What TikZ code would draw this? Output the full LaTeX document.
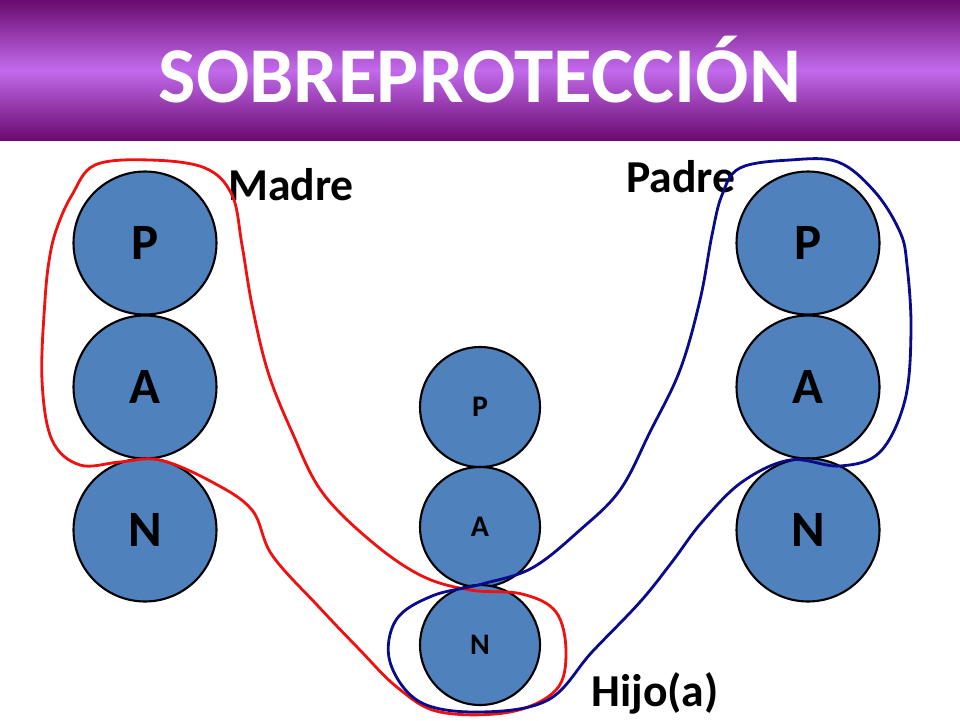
\documentclass[tikz,border=0pt]{standalone}
\usepackage{fontspec}
\setmainfont{Carlito}
\usetikzlibrary{positioning}
\definecolor{ballblue}{HTML}{4F81BD}
\definecolor{loopred}{HTML}{F01010}
\definecolor{loopblue}{HTML}{0A0A8C}
\definecolor{bandedge}{HTML}{6A0A6E}
\definecolor{bandmid}{HTML}{C26AEC}
\tikzset{
	big/.style={circle,draw=black,line width=1.2pt,fill=ballblue,minimum size=2.86cm,inner sep=0pt,font=\fontsize{29}{32}\selectfont\bfseries},
	small/.style={circle,draw=black,line width=1.2pt,fill=ballblue,minimum size=2.4cm,inner sep=0pt,font=\fontsize{17}{19}\selectfont\bfseries},
	lbl/.style={font=\fontsize{26}{30}\selectfont\bfseries},
}
\begin{document}
\begin{tikzpicture}[x=0.02cm,y=-0.02cm]
	\useasboundingbox (0,0) rectangle (960,720);
	\shade[top color=bandedge,bottom color=bandedge,middle color=bandmid] (0,0) rectangle (960,140);
	\node[text=white,font=\fontsize{45}{50}\selectfont\bfseries] (title) at (480,70) {SOBREPROTECCIÓN};
	% madre
	\node[big] (mP) at (145,243) {P};
	\node[big] (mA) at (145,387) {A};
	\node[big] (mN) at (145,530) {N};
	% padre
	\node[big] (pP) at (808,243) {P};
	\node[big] (pA) at (808,387) {A};
	\node[big] (pN) at (808,530) {N};
	% hijo
	\node[small] (hP) at (480,407) {P};
	\node[small] (hA) at (480,527) {A};
	\node[small] (hN) at (480,645) {N};
	\node[lbl] (madre) at (291,185) {Madre};
	\node[lbl] (padre) at (681,177) {Padre};
	\node[lbl] (hijo) at (655,693) {Hijo(a)};
	\draw[loopred,line width=1.6pt] plot[smooth cycle,tension=0.6] coordinates {
		(95,165) (150,160) (205,168) (232,195) (242,245) (252,305) (268,372) (292,432)
		(322,492) (372,542) (422,576) (470,590) (522,594) (556,612) (566,652) (556,690)
		(510,712) (440,712) (398,688) (358,648) (318,606) (272,555) (252,510) (212,482)
		(160,460) (120,462) (80,465) (52,440) (42,380) (45,300) (50,255) (58,225) (72,195)};
	\draw[loopblue,line width=1.6pt] plot[smooth cycle,tension=0.6] coordinates {
		(740,168) (790,160) (838,162) (875,192) (900,232) (907,265) (911,330) (905,400)
		(880,452) (840,466) (790,460) (742,482) (702,522) (672,562) (640,602) (592,652)
		(548,700) (480,712) (420,702) (390,662) (396,620) (432,596) (482,584) (532,568)
		(580,530) (620,490) (650,432) (680,370) (700,300) (712,235) (722,195)};
\end{tikzpicture}
\end{document}
